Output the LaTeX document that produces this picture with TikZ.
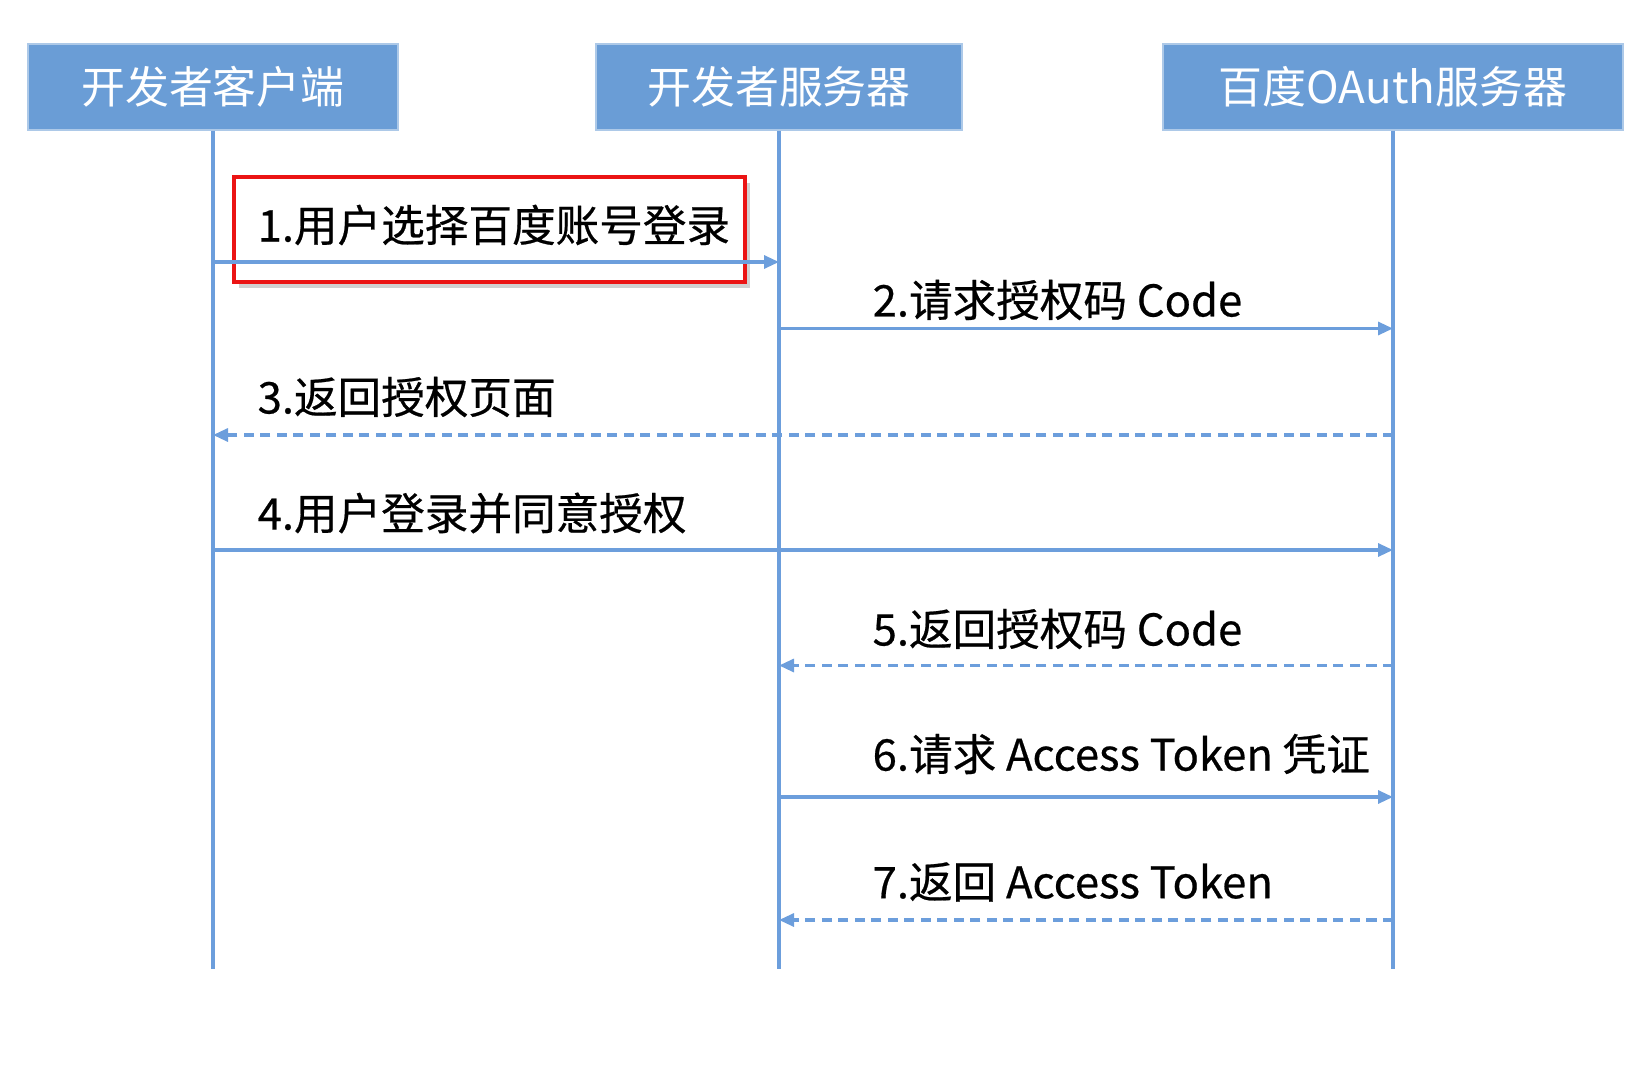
\documentclass[tikz,border=0pt]{standalone}
\usepackage{fontspec}
\setmainfont{Noto Sans CJK SC}
\newfontfamily\msgfont{Noto Sans CJK SC}[FakeBold=0.5]
\usetikzlibrary{arrows.meta, positioning, shadows}
\definecolor{hdrblue}{RGB}{106,157,214}
\definecolor{lineblue}{RGB}{108,158,220}
\definecolor{markred}{RGB}{235,20,20}
\tikzset{
  actor/.style={fill=hdrblue, draw=hdrblue!55!white, text=white, minimum height=0.86cm, inner sep=0pt, font=\fontsize{12.5}{15}\selectfont},
  lifeline/.style={lineblue, line width=0.9pt},
  call/.style={lineblue, line width=0.9pt, -{Triangle[length=0.15cm, width=0.13cm]}},
  reply/.style={call, dash pattern=on 0.1cm off 0.065cm},
  msg/.style={anchor=west, inner sep=0pt, font=\msgfont\fontsize{12.4}{15}\selectfont},
  hilite/.style={draw=markred, line width=1.3pt, fill=white, drop shadow={shadow xshift=0.05cm, shadow yshift=-0.06cm, opacity=0.3, fill=black!60}},
}

\begin{document}
\begin{tikzpicture}[x=0.01cm, y=-0.01cm]
\useasboundingbox (0,0) rectangle (1651,1076);
% the three parties, one lifeline below each
\node[actor, minimum width=3.70cm] (cli) at (213,87) {开发者客户端};
\node[actor, minimum width=3.66cm] (dev) at (779,87) {开发者服务器};
\node[actor, minimum width=4.60cm] (bd) at (1393,87) {百度OAuth服务器};
\coordinate (cli-end) at (213,969);
\coordinate (dev-end) at (779,969);
\coordinate (bd-end) at (1393,969);
\draw[lifeline] (cli) -- (cli-end);
\draw[lifeline] (dev) -- (dev-end);
\draw[lifeline] (bd) -- (bd-end);
% highlighted first step
\node[hilite, minimum width=5.11cm, minimum height=1.05cm] (pick) at (489.5,229.5) {};
% message end points on the lifelines
\coordinate (m1-a) at (213,262);   \coordinate (m1-b) at (779,262);
\coordinate (m2-a) at (779,328.5); \coordinate (m2-b) at (1393,328.5);
\coordinate (m3-a) at (1393,435);  \coordinate (m3-b) at (213,435);
\coordinate (m4-a) at (213,550);   \coordinate (m4-b) at (1393,550);
\coordinate (m5-a) at (1393,665.5);\coordinate (m5-b) at (779,665.5);
\coordinate (m6-a) at (779,797);   \coordinate (m6-b) at (1393,797);
\coordinate (m7-a) at (1393,920);  \coordinate (m7-b) at (779,920);
\draw[call] (m1-a) -- (m1-b);
\draw[call] (m2-a) -- (m2-b);
\draw[reply] (m3-a) -- (m3-b);
\draw[call] (m4-a) -- (m4-b);
\draw[reply] (m5-a) -- (m5-b);
\draw[call] (m6-a) -- (m6-b);
\draw[reply] (m7-a) -- (m7-b);
% labels, left aligned above each arrow
\node[msg] (t1) at (257,225) {1.用户选择百度账号登录};
\node[msg] (t2) at (872,300) {2.请求授权码 Code};
\node[msg] (t3) at (257,397) {3.返回授权页面};
\node[msg] (t4) at (257,513) {4.用户登录并同意授权};
\node[msg] (t5) at (872,629) {5.返回授权码 Code};
\node[msg] (t6) at (872,754) {6.请求 Access Token 凭证};
\node[msg] (t7) at (872,882) {7.返回 Access Token};
\end{tikzpicture}
\end{document}
